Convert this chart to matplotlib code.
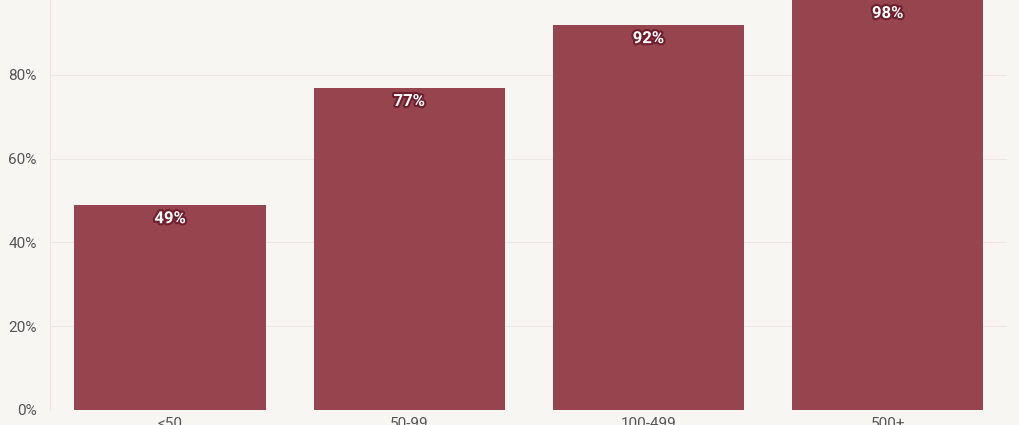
import matplotlib
matplotlib.use("Agg")
import matplotlib.pyplot as plt
import matplotlib.patheffects as pe
from matplotlib.ticker import FuncFormatter

# share of respondents per size bucket
categories = ["<50", "50-99", "100-499", "500+"]
values = [49, 77, 92, 98]

plt.rcParams['font.family'] = ['Liberation Sans Narrow', 'Roboto', 'DejaVu Sans']

bg = "#f8f6f3"
bar_col = "#96444e"

fig = plt.figure(figsize=(10.2, 4.25), dpi=100, facecolor=bg)
ax = fig.add_axes([0.0495, 0.0353, 0.938, 0.9853])
ax.set_facecolor(bg)

x = range(len(categories))
ax.bar(x, values, width=0.8, color=bar_col, zorder=2)

for i, v in zip(x, values):
	ax.annotate(f"{v}%", (i, v), xytext=(0, -10), textcoords="offset points",
				ha="center", va="center", color="white", fontsize=12, fontweight="bold",
				path_effects=[pe.withStroke(linewidth=3, foreground="#6e1e2c")], zorder=3)

ax.set_xlim(-0.5, 3.5)
ax.set_ylim(0, 100)
ax.set_yticks([0, 20, 40, 60, 80])
ax.yaxis.set_major_formatter(FuncFormatter(lambda v, p: f"{v:.0f}%"))
ax.set_xticks(list(x))
ax.set_xticklabels(categories)
ax.tick_params(axis="both", length=0, colors="#555555", labelsize=11)
ax.tick_params(axis="y", pad=10)
ax.tick_params(axis="x", pad=5)

ax.grid(axis="y", color="#ece9e5", linewidth=0.8, zorder=0)
for s in ["top", "right", "bottom"]:
	ax.spines[s].set_visible(False)
ax.spines["left"].set_color("#e8e5e1")
ax.spines["left"].set_linewidth(0.8)

fig.savefig("out.png", dpi=100, facecolor=bg)
